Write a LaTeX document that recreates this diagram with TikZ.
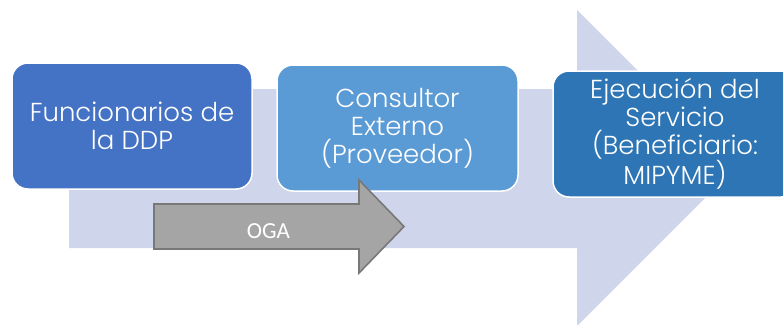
\documentclass[tikz,border=0pt]{standalone}
\usepackage{fontspec}
\newfontfamily\boxfont{Poppins Light}
\newfontfamily\labelfont{Carlito}
\definecolor{bandblue}{HTML}{CFD5EA}
\definecolor{boxA}{HTML}{4472C4}
\definecolor{boxB}{HTML}{5B9BD5}
\definecolor{boxC}{HTML}{2E75B6}
\definecolor{ogafill}{HTML}{A5A5A5}
\definecolor{ogaline}{HTML}{787878}
\begin{document}
\begin{tikzpicture}[x=1pt,y=-1pt,
  stage/.style={draw=white, line width=1.5pt, rounded corners=16pt,
    minimum width=#1, minimum height=126pt, inner sep=0pt, text=white,
    align=center, font=\boxfont\fontsize{26}{28}\selectfont},
  stage/.default=240pt]
\useasboundingbox (0,0) rectangle (783,324);
\clip (0,0) rectangle (783,324);
% wide background arrow
\fill[bandblue] (69,89) -- (577,89) -- (577,10) -- (735,168) -- (577,326)
  -- (577,248) -- (69,248) -- cycle;
% process stages
\node[stage=240pt, fill=boxA] (ddp) at (132,126) {Funcionarios de\\la DDP};
\node[stage=241pt, fill=boxB] (cons) at (397.5,128) {Consultor\\Externo\\(Proveedor)};
\node[stage=244pt, fill=boxC] (ejec) at (675,134) {Ejecución del\\Servicio\\(Beneficiario:\\MIPYME)};
% OGA arrow
\draw[fill=ogafill, draw=ogaline, line width=1.6pt, line join=miter]
  (154,204) -- (359,204) -- (359,180) -- (404,226.5) -- (359,273)
  -- (359,249) -- (154,249) -- cycle;
\node[text=white, font=\labelfont\fontsize{23}{27}\selectfont, inner sep=0pt]
  (oga) at (268.5,231) {OGA};
\end{tikzpicture}
\end{document}
